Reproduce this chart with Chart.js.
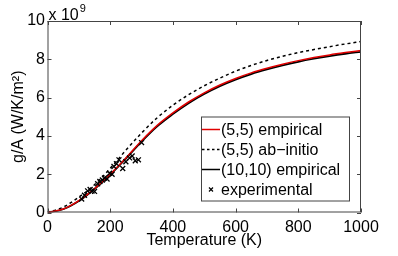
<!DOCTYPE html>
<html>
<head>
<meta charset="utf-8">
<script src="https://cdn.jsdelivr.net/npm/chart.js@4/dist/chart.umd.min.js"></script>
<style>
  html, body { margin: 0; padding: 0; background: #fff; }
  #wrap { width: 398px; height: 256px; }
</style>
</head>
<body>
<div id="wrap"><canvas id="c" width="398" height="256"></canvas></div>
<script>
// temperatures (K) for the model curves
const temps = [0, 50, 100, 150, 200, 250, 300, 350, 400, 450, 500, 550, 600, 650, 700, 750, 800, 850, 900, 950, 1000];
// g/A in units of 1e9 W/K/m^2
const empirical55 = [0, 0.18, 0.62, 1.25, 2.0, 2.85, 3.75, 4.55, 5.2, 5.77, 6.25, 6.66, 7.0, 7.29, 7.53, 7.74, 7.93, 8.09, 8.23, 8.35, 8.46];
const abinitio55 = [0, 0.28, 0.8, 1.45, 2.3, 3.25, 4.15, 4.95, 5.6, 6.15, 6.62, 7.02, 7.38, 7.68, 7.94, 8.16, 8.35, 8.51, 8.66, 8.8, 8.93];
const empirical1010 = [0, 0.17, 0.6, 1.23, 1.97, 2.81, 3.7, 4.5, 5.14, 5.71, 6.19, 6.6, 6.94, 7.23, 7.47, 7.68, 7.87, 8.03, 8.17, 8.29, 8.39];
// experimental points
const expT = [109, 118, 128, 136, 142, 150, 160, 167, 175, 182, 190, 198, 206, 212, 220, 228, 240, 250, 262, 270, 280, 290, 300];
const expG = [0.70, 0.90, 1.13, 1.20, 1.12, 1.10, 1.50, 1.62, 1.70, 1.80, 1.75, 2.05, 2.00, 2.40, 2.55, 2.75, 2.30, 2.65, 2.85, 2.95, 2.70, 2.75, 3.65];
const xTicks = [0, 200, 400, 600, 800, 1000];
const yTicks = [0, 2, 4, 6, 8, 10];

const FONT = 'Liberation Sans, Arial, Helvetica, sans-serif';

function pts(xs, ys) {
  return xs.map((x, i) => ({ x: x, y: ys[i] }));
}

// box, inward ticks, exponent label and legend, MATLAB style
const matlabAxes = {
  id: 'matlabAxes',
  afterDatasetsDraw(chart) {
    const { ctx, chartArea: a, scales } = chart;
    const xs = scales.x, ys = scales.y;
    ctx.save();
    ctx.strokeStyle = '#444';
    ctx.lineWidth = 1;
    ctx.strokeRect(a.left + 0.5, a.top + 0.5, a.right - a.left - 1, a.bottom - a.top - 1);
    ctx.beginPath();
    xTicks.forEach(v => {
      const px = Math.round(xs.getPixelForValue(v)) + 0.5;
      ctx.moveTo(px, a.bottom); ctx.lineTo(px, a.bottom - 4);
      ctx.moveTo(px, a.top); ctx.lineTo(px, a.top + 4);
    });
    yTicks.forEach(v => {
      const py = Math.round(ys.getPixelForValue(v)) + 0.5;
      ctx.moveTo(a.left, py); ctx.lineTo(a.left + 4, py);
      ctx.moveTo(a.right, py); ctx.lineTo(a.right - 4, py);
    });
    ctx.stroke();

    // x 10^9
    ctx.fillStyle = '#000';
    ctx.textBaseline = 'alphabetic';
    ctx.textAlign = 'left';
    ctx.font = '16px ' + FONT;
    ctx.fillText('x 10', a.left + 1, a.top - 1);
    const w = ctx.measureText('x 10').width;
    ctx.font = '11px ' + FONT;
    ctx.fillText('9', a.left + 1 + w + 1, a.top - 9);

    // legend
    const bw = 148, bh = 84;
    const bx = a.right - 12 - bw, by = a.bottom - 12 - bh;
    ctx.fillStyle = '#fff';
    ctx.fillRect(bx, by, bw, bh);
    ctx.strokeStyle = '#444';
    ctx.strokeRect(bx + 0.5, by + 0.5, bw, bh);
    ctx.font = '16px ' + FONT;
    ctx.textBaseline = 'middle';
    chart.data.datasets.slice().sort((p, q) => p.legendIndex - q.legendIndex).forEach((ds, i) => {
      const cy = by + 13 + i * 20;
      if (ds.type === 'scatter') {
        ctx.strokeStyle = '#000';
        ctx.lineWidth = 1.2;
        ctx.beginPath();
        ctx.moveTo(bx + 8, cy - 2); ctx.lineTo(bx + 12, cy + 2);
        ctx.moveTo(bx + 12, cy - 2); ctx.lineTo(bx + 8, cy + 2);
        ctx.stroke();
      } else {
        ctx.strokeStyle = ds.borderColor;
        ctx.lineWidth = 1.5;
        ctx.setLineDash(ds.borderDash ? [2.5, 2.5] : []);
        ctx.beginPath();
        ctx.moveTo(bx + 1, cy); ctx.lineTo(bx + 19, cy);
        ctx.stroke();
        ctx.setLineDash([]);
      }
      ctx.fillStyle = '#000';
      ctx.fillText(ds.label, bx + 20, cy + 1);
    });
    ctx.restore();
  }
};

new Chart(document.getElementById('c'), {
  type: 'line',
  data: {
    datasets: [
      {
        type: 'scatter', label: 'experimental', legendIndex: 3,
        data: pts(expT, expG),
        pointStyle: 'crossRot', radius: 3.5, borderColor: '#000', borderWidth: 1.3
      },
      {
        label: '(5,5) empirical', legendIndex: 0,
        data: pts(temps, empirical55),
        borderColor: '#e00000', borderWidth: 1.5, pointRadius: 0, cubicInterpolationMode: 'monotone'
      },
      {
        label: '(5,5) ab\u2212initio', legendIndex: 1,
        data: pts(temps, abinitio55),
        borderColor: '#000', borderWidth: 1.5, borderDash: [3, 3], pointRadius: 0, cubicInterpolationMode: 'monotone'
      },
      {
        label: '(10,10) empirical', legendIndex: 2,
        data: pts(temps, empirical1010),
        borderColor: '#000', borderWidth: 1.8, pointRadius: 0, cubicInterpolationMode: 'monotone'
      }
    ]
  },
  options: {
    responsive: false,
    animation: false,
    layout: { padding: { top: 21, right: 37, left: 0, bottom: 0 } },
    plugins: { legend: { display: false }, tooltip: { enabled: false } },
    scales: {
      x: {
        type: 'linear', min: 0, max: 1000,
        afterFit(s) { s.height = 43.5; },
        afterBuildTicks(s) { s.ticks = xTicks.map(v => ({ value: v })); },
        border: { display: false },
        grid: { display: false, drawTicks: false },
        ticks: { color: '#000', padding: 5, maxRotation: 0, callback: v => String(v), font: { family: FONT, size: 16 } },
        title: { display: true, text: 'Temperature (K)', color: '#000', padding: { top: 0, bottom: 6 }, font: { family: FONT, size: 16 } }
      },
      y: {
        type: 'linear', min: 0, max: 10,
        afterFit(s) { s.width = 47.5; },
        afterBuildTicks(s) { s.ticks = yTicks.map(v => ({ value: v })); },
        border: { display: false },
        grid: { display: false, drawTicks: false },
        ticks: { color: '#000', padding: 2.5, callback: v => String(v), font: { family: FONT, size: 16 } },
        title: { display: true, text: 'g/A (W/K/m\u00b2)', color: '#000', padding: { top: 9, bottom: 0 }, font: { family: FONT, size: 16 } }
      }
    }
  },
  plugins: [matlabAxes]
});
</script>
</body>
</html>
